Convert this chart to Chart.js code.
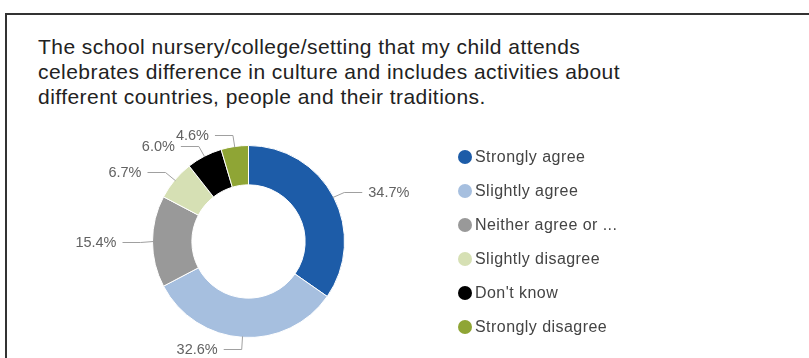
<!DOCTYPE html>
<html>
<head>
<meta charset="utf-8">
<title>Culture and traditions</title>
<script src="https://cdn.jsdelivr.net/npm/chart.js@4.4.1/dist/chart.umd.min.js"></script>
<style>
  html, body { margin: 0; padding: 0; background: #fff; }
  body { position: relative; width: 809px; height: 358px; overflow: hidden;
         font-family: 'Liberation Sans', Arial, sans-serif; }
  .frame { position: absolute; left: 5px; top: 13px; width: 900px; height: 420px;
           border: 2px solid #333; box-sizing: border-box; }
  .title { position: absolute; left: 38px; top: 34px; margin: 0;
           font-size: 21px; letter-spacing: 0.45px; line-height: 25px; font-weight: normal; color: #222; white-space: nowrap; }
  .chart-box { position: absolute; left: 0; top: 0; width: 809px; height: 358px; }
  #legend { position: absolute; left: 458px; top: 140px; margin: 0; padding: 0; list-style: none; }
  #legend li { display: flex; align-items: center; height: 34px; font-size: 16px; letter-spacing: 0.45px; color: #444; white-space: nowrap; }
  #legend .dot { width: 14px; height: 14px; border-radius: 50%; margin-right: 3px; flex: none; }
</style>
</head>
<body>
<div class="frame"></div>
<h2 class="title">The school nursery/college/setting that my child attends<br>celebrates difference in culture and includes activities about<br>different countries, people and their traditions.</h2>
<div class="chart-box"><canvas id="myChart"></canvas></div>
<ul id="legend"></ul>

<script>
// Respuestas (porcentaje de familias)
const categories = ['Strongly agree', 'Slightly agree', 'Neither agree or disagree', 'Slightly disagree', "Don't know", 'Strongly disagree'];
const percentages = [34.7, 32.6, 15.4, 6.7, 6.0, 4.6];
const sliceColours = ['#1d5ca8', '#a6bfdf', '#999999', '#d6e0b4', '#000000', '#8fa535'];

const FONT = "'Liberation Sans', Arial, sans-serif";

// Etiquetas de porcentaje con línea guía fuera del anillo
const leaderLabels = {
  id: 'leaderLabels',
  afterDatasetsDraw(chart) {
    const ctx = chart.ctx;
    const values = chart.data.datasets[0].data;
    const items = chart.getDatasetMeta(0).data.map((arc, i) => {
      const p = arc.getProps(['x', 'y', 'startAngle', 'endAngle', 'outerRadius'], true);
      const mid = (p.startAngle + p.endAngle) / 2;
      const cos = Math.cos(mid), sin = Math.sin(mid);
      return {
        right: cos >= 0,
        ax: p.x + cos * (p.outerRadius - 1),
        ay: p.y + sin * (p.outerRadius - 1),
        ex: p.x + cos * (p.outerRadius + 12),
        ey: p.y + sin * (p.outerRadius + 12),
        text: values[i].toFixed(1) + '%'
      };
    });

    // separar etiquetas que se pisan en cada lado
    [true, false].forEach(side => {
      const group = items.filter(it => it.right === side).sort((a, b) => b.ey - a.ey);
      for (let k = 1; k < group.length; k++) {
        if (group[k - 1].ey - group[k].ey < 11) group[k].ey = group[k - 1].ey - 11;
      }
    });

    ctx.save();
    ctx.font = '14.5px ' + FONT;
    ctx.textBaseline = 'middle';
    items.forEach(it => {
      const dir = it.right ? 1 : -1;
      const y = Math.round(it.ey) + 0.5;
      ctx.strokeStyle = '#a0a0a0';
      ctx.lineWidth = 1;
      ctx.beginPath();
      ctx.moveTo(it.ax, it.ay);
      ctx.lineTo(it.ex, y);
      ctx.lineTo(it.ex + dir * 18, y);
      ctx.stroke();
      ctx.fillStyle = '#626262';
      ctx.textAlign = it.right ? 'left' : 'right';
      ctx.fillText(it.text, it.ex + dir * 24, y);
    });
    ctx.restore();
  }
};

// Leyenda en HTML a partir de los elementos de la leyenda del gráfico
const htmlLegend = {
  id: 'htmlLegend',
  afterUpdate(chart) {
    const ul = document.getElementById('legend');
    ul.innerHTML = '';
    const measure = document.createElement('canvas').getContext('2d');
    measure.font = '16px ' + FONT;
    const items = chart.options.plugins.legend.labels.generateLabels(chart);
    items.forEach(item => {
      let text = item.text;
      if (measure.measureText(text).width > 140) {
        const words = text.split(' ');
        while (words.length > 1 && measure.measureText(words.join(' ') + ' ...').width > 140) words.pop();
        text = words.join(' ') + ' ...';
      }
      const li = document.createElement('li');
      const dot = document.createElement('span');
      dot.className = 'dot';
      dot.style.background = item.fillStyle;
      const label = document.createElement('span');
      label.textContent = text;
      li.appendChild(dot);
      li.appendChild(label);
      ul.appendChild(li);
    });
  }
};

const ctx = document.getElementById('myChart').getContext('2d');
const myChart = new Chart(ctx, {
  type: 'doughnut',
  data: {
    labels: categories,
    datasets: [{
      data: percentages,
      backgroundColor: sliceColours,
      borderColor: '#ffffff',
      borderWidth: 1,
      hoverOffset: 0,
      offset: 0
    }]
  },
  options: {
    responsive: true,
    maintainAspectRatio: false,
    animation: false,
    cutout: '59%',
    layout: { padding: { top: 145, left: 38, right: 350, bottom: 20 } },
    plugins: {
      legend: { display: false },
      tooltip: { enabled: false }
    }
  },
  plugins: [leaderLabels, htmlLegend]
});
</script>
</body>
</html>
